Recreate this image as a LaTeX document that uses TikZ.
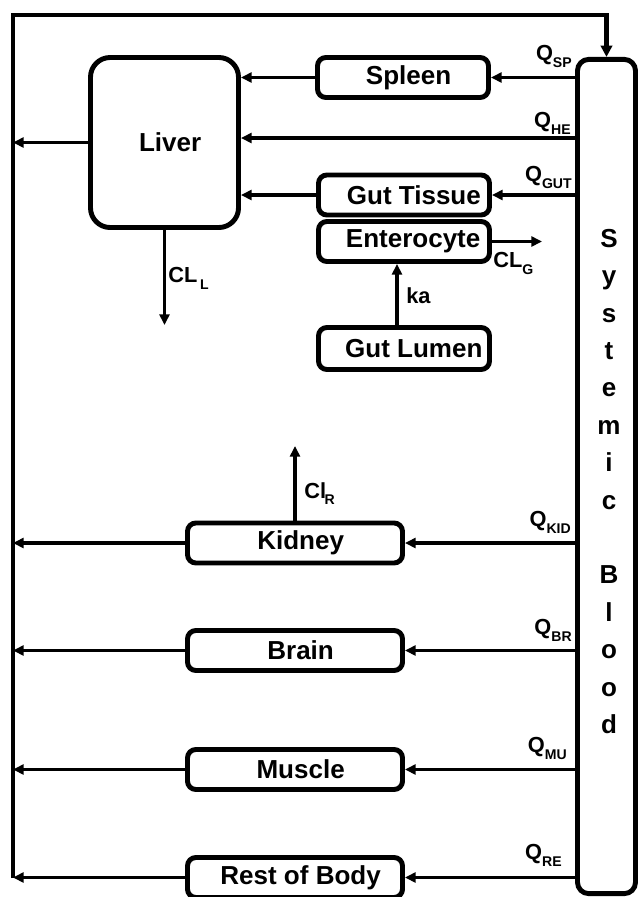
\documentclass[tikz,border=0pt]{standalone}
\usepackage{fontspec}
\setmainfont{Liberation Sans}
\usepackage{tikz}
\usetikzlibrary{positioning,arrows.meta}

\newcommand{\flowsub}[1]{\raisebox{-0.6ex}{\fontsize{10}{10}\selectfont #1}}

\tikzset{
  textshift/.style={execute at begin node={\hspace*{#1}}},
  organ/.style={draw, line width=3.5pt, rounded corners=6pt, minimum width=4.275cm, minimum height=1cm, inner sep=0pt, font=\fontsize{18.5}{20}\selectfont\bfseries, textshift=8pt},
  wide/.style={minimum width=5.375cm},
  flow/.style={line width=2.7pt, -{Triangle[length=7.5pt,width=7pt]}},
  backflow/.style={line width=3.5pt, -{Triangle[length=8pt,width=8pt]}},
  qlabel/.style={inner sep=0pt, font=\fontsize{15.5}{16}\selectfont\bfseries}
}

\begin{document}
\begin{tikzpicture}[x=0.025cm,y=-0.025cm]
\useasboundingbox (0,0) rectangle (640,897);

\node[draw, line width=3.5pt, rounded corners=8pt, minimum width=1.45cm, minimum height=20.85cm](blood) at (606.5,476.5) {};
\node[font=\fontsize{18.5}{26.6}\selectfont\bfseries, align=center, inner sep=0pt](bloodtext) at (609,481.5)
  {S\\y\\s\\t\\e\\m\\i\\c\\[26.6pt]B\\l\\o\\o\\d};

\node[organ, rounded corners=14pt, minimum width=3.7cm, minimum height=4.25cm](liver) at (164.5,142.5) {Liver};

\node[organ](spleen) at (403,77.5) {Spleen};
\node[organ, textshift=6pt](guttissue) at (404,195) {Gut Tissue};
\node[organ, textshift=5pt](enterocyte) at (404,241.5) {Enterocyte};
\node[organ, textshift=6pt, minimum height=1.05cm](gutlumen) at (404,348.5) {Gut Lumen};

\foreach \o/\txt/\y in {kidney/Kidney/543, brain/Brain/650.5, muscle/Muscle/769.5, rest/Rest of Body/877.5}
	\node[organ, wide](\o) at (295,\y) {\txt};

% return line to the blood
\coordinate(ret) at (13,15);
\coordinate(retbot) at (13,878);
\draw[backflow] (retbot) -- (ret) -- (blood.north |- ret) -- (blood.north);

\coordinate(he) at (0,138);
\draw[flow] (blood.west |- spleen) -- (spleen.east);
\draw[flow] (spleen.west) -- (liver.east |- spleen);
\draw[flow] (blood.west |- he) -- (liver.east |- he);
\draw[flow] (blood.west |- guttissue) -- (guttissue.east);
\draw[flow] (guttissue.west) -- (liver.east |- guttissue);
\draw[flow] (liver.west) -- (liver.west -| ret);

\foreach \o in {kidney,brain,muscle,rest} {
	\draw[flow] (blood.west |- \o) -- (\o.east);
	\draw[flow] (\o.west) -- (\o.west -| ret);
}

\coordinate(cll) at (162,325);
\draw[flow] (liver.south) -- (liver.south |- cll);
\coordinate(clg) at (542,241.5);
\draw[flow] (enterocyte.east) -- (clg);
\coordinate(kax) at (397,0);
\draw[flow] (gutlumen.north -| kax) -- (enterocyte.south -| kax);
\coordinate(clr) at (295,446);
\draw[flow] (kidney.north) -- (clr);

\node[qlabel, anchor=south east](qsp) at (572,68) {Q\flowsub{SP}};
\node[qlabel, anchor=south east](qhe) at (571,135) {Q\flowsub{HE}};
\node[qlabel, anchor=south east](qgut) at (572,189) {Q\flowsub{GUT}};
\node[qlabel, anchor=south east](qkid) at (571,534) {Q\flowsub{KID}};
\node[qlabel, anchor=south east](qbr) at (572,642) {Q\flowsub{BR}};
\node[qlabel, anchor=south east](qmu) at (567,760) {Q\flowsub{MU}};
\node[qlabel, anchor=south east](qre) at (562,867) {Q\flowsub{RE}};

\node[qlabel, anchor=north west](cllabel) at (168,267) {CL\kern2pt\flowsub{L}};
\node[qlabel, anchor=north west](clglabel) at (493,252) {CL\flowsub{G}};
\node[qlabel, anchor=north west](kalabel) at (406,287) {ka};
\node[qlabel, anchor=north west](clrlabel) at (304,482) {Cl\kern-1pt\flowsub{R}};

\end{tikzpicture}
\end{document}
